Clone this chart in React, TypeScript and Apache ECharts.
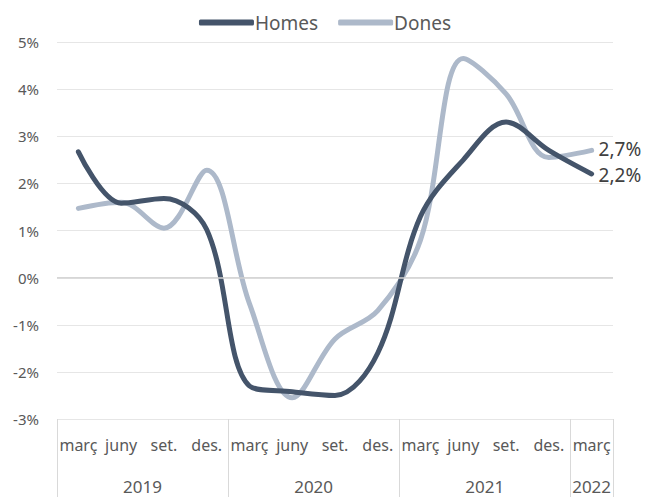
import React, { useEffect, useRef } from "react";
import * as echarts from "echarts";

const quarters = ["març", "juny", "set.", "des.", "març", "juny", "set.", "des.", "març", "juny", "set.", "des.", "març"];
const years = ["2019", "2020", "2021", "2022"];
const yearBounds = [0, 4, 8, 12, 13];
const homes = [2.67, 1.58, 1.68, 1.02, -2.3, -2.42, -2.5, -1.6, 1.3, 2.5, 3.3, 2.7, 2.2];
const dones = [1.47, 1.6, 1.05, 2.28, -0.55, -2.55, -1.3, -0.7, 0.8, 4.65, 3.9, 2.55, 2.7];
const seriesNames = ["Homes", "Dones"];
const endLabels = ["2,2%", "2,7%"];

const FONT = "'Noto Sans', 'Open Sans', sans-serif";

export default function App() {
  const ref = useRef<HTMLDivElement>(null);
  useEffect(() => {
    if (!ref.current) return;
    const chart = echarts.init(ref.current, null, { renderer: "svg" });
    const yearMids = years.map((_, i) => (yearBounds[i] + yearBounds[i + 1]) / 2);
    const endLabel = (text: string, dy: number) => ({
      show: true,
      formatter: text,
      distance: 7,
      offset: [0, dy],
      fontSize: 19,
      lineHeight: 20,
      color: "#404040",
      fontFamily: FONT,
    });
    chart.setOption({
      animation: false,
      textStyle: { fontFamily: FONT },
      legend: {
        top: 8,
        left: "center",
        icon: "roundRect",
        itemWidth: 55,
        itemHeight: 6,
        itemGap: 20,
        textStyle: { fontSize: 19, color: "#595959", fontFamily: FONT, padding: [0, 0, 0, -4] },
        data: seriesNames,
      },
      grid: { left: 57, right: 37, top: 42, bottom: 78 },
      xAxis: [
        {
          type: "category",
          data: quarters,
          boundaryGap: true,
          axisLine: { show: false },
          axisTick: { show: false },
          splitLine: { show: false },
          axisLabel: { fontSize: 16, color: "#595959", margin: 18, interval: 0, fontFamily: FONT },
        },
        {
          type: "value",
          min: 0,
          max: 13,
          position: "bottom",
          axisLine: { show: false },
          splitLine: { show: false },
          axisTick: {
            show: true,
            customValues: yearBounds,
            length: 78,
            lineStyle: { color: "#D9D9D9", width: 1 },
          },
          axisLabel: {
            customValues: yearMids,
            formatter: (v: number) => {
              const idx = yearMids.indexOf(v);
              return idx >= 0 ? years[idx] : "";
            },
            fontSize: 17,
            color: "#595959",
            margin: 59,
            fontFamily: FONT,
          },
        },
      ],
      yAxis: {
        type: "value",
        min: -3,
        max: 5,
        interval: 1,
        axisLine: { show: false },
        axisTick: { show: false },
        splitLine: { lineStyle: { color: "#E6E6E6", width: 1 } },
        axisLabel: {
          formatter: (v: number) => v + "%",
          fontSize: 15,
          color: "#595959",
          margin: 18,
          fontFamily: FONT,
        },
      },
      series: [
        {
          name: seriesNames[0],
          type: "line",
          xAxisIndex: 0,
          data: homes,
          smooth: 0.35,
          showSymbol: false,
          symbol: "none",
          lineStyle: { color: "#44546A", width: 5, cap: "round" },
          itemStyle: { color: "#44546A" },
          endLabel: endLabel(endLabels[0], 1),
          z: 3,
          markLine: {
            silent: true,
            symbol: "none",
            label: { show: false },
            lineStyle: { color: "#D0D0D0", width: 1.5, type: "solid" },
            data: [{ yAxis: 0 }],
          },
        },
        {
          name: seriesNames[1],
          type: "line",
          xAxisIndex: 0,
          data: dones,
          smooth: 0.35,
          showSymbol: false,
          symbol: "none",
          lineStyle: { color: "#ADB9CA", width: 5, cap: "round" },
          itemStyle: { color: "#ADB9CA" },
          endLabel: endLabel(endLabels[1], -1),
          z: 2,
        },
      ],
    });
    return () => chart.dispose();
  }, []);
  return (
    <div
      ref={ref}
      style={{ position: "absolute", left: 0, top: 0, width: 650, height: 497, background: "#fff" }}
    />
  );
}
